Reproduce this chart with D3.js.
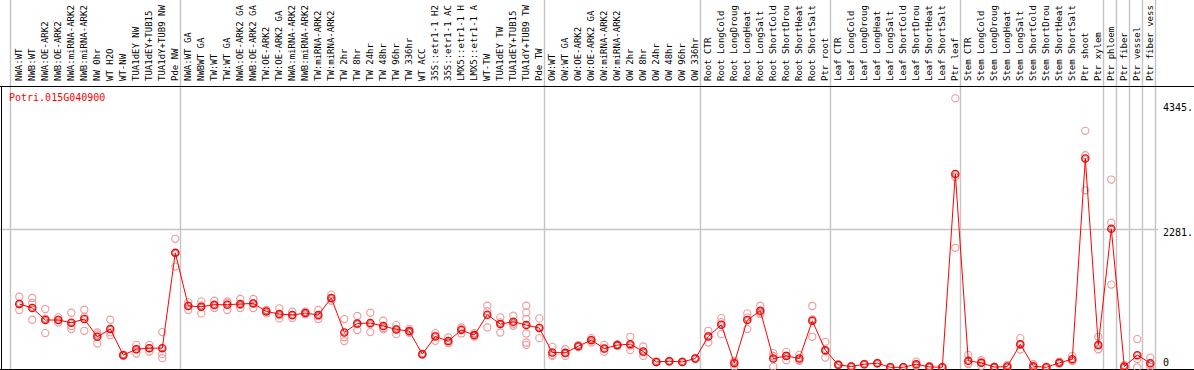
<!DOCTYPE html>
<html>
<head>
<meta charset="utf-8">
<script src="https://cdn.jsdelivr.net/npm/d3@7"></script>
<style>
  body { margin: 0; background: #fff; }
  svg { display: block; }
</style>
</head>
<body>
<div id="chart"></div>
<script>
const width = 1194;
const height = 370;

const geneId = "Potri.015G040900";

// labels as far as they are visible in the header strip
const labels = [
  "NWA:WT", "NWB:WT", "NWA:OE-ARK2", "NWB:OE-ARK2", "NWA:miRNA-ARK2", "NWB:miRNA-ARK2",
  "NW 0hr", "WT H2O", "WT-NW", "TUA1dEY NW", "TUA1dEY+TUB15", "TUA1dY+TUB9 NW", "Pde NW",
  "NWA:WT GA", "NWBWT GA", "TW:WT", "TW:WT GA", "NWA:OE-ARK2 GA", "NWB:OE-ARK2 GA",
  "TW:OE-ARK2", "TW:OE-ARK2 GA", "NWA:miRNA-ARK2", "NWB:miRNA-ARK2", "TW:miRNA-ARK2", "TW:miRNA-ARK2",
  "TW 2hr", "TW 8hr", "TW 24hr", "TW 48hr", "TW 96hr", "TW 336hr", "WT ACC",
  "35S::etr1-1 H2", "35S::etr1-1 AC", "LMX5::etr1-1 H", "LMX5::etr1-1 A", "WT-TW",
  "TUA1dEY TW", "TUA1dEY+TUB15", "TUA1dY+TUB9 TW", "Pde TW",
  "OW:WT", "OW:WT GA", "OW:OE-ARK2", "OW:OE-ARK2 GA", "OW:miRNA-ARK2", "OW:miRNA-ARK2",
  "OW 2hr", "OW 8hr", "OW 24hr", "OW 48hr", "OW 96hr", "OW 336hr",
  "Root CTR", "Root LongCold", "Root LongDroug", "Root LongHeat", "Root LongSalt",
  "Root ShortCold", "Root ShortDrou", "Root ShortHeat", "Root ShortSalt", "Ptr root",
  "Leaf CTR", "Leaf LongCold", "Leaf LongDroug", "Leaf LongHeat", "Leaf LongSalt",
  "Leaf ShortCold", "Leaf ShortDrou", "Leaf ShortHeat", "Leaf ShortSalt", "Ptr leaf",
  "Stem CTR", "Stem LongCold", "Stem LongDroug", "Stem LongHeat", "Stem LongSalt",
  "Stem ShortCold", "Stem ShortDrou", "Stem ShortHeat", "Stem ShortSalt", "Ptr shoot",
  "Ptr xylem", "Ptr phloem", "Ptr fiber", "Ptr vessel", "Ptr fiber vess"
];

// how many columns sit between two grey separators
const groupSizes = [13, 28, 12, 10, 10, 11, 1, 1, 1, 1];

const means = [
  1042, 976, 778, 778, 733, 794, 502, 629, 200, 298, 315, 315, 1884,
  1009, 997, 1030, 1030, 1042, 1052, 920, 877, 860, 893, 860, 1141,
  573, 722, 728, 679, 623, 596, 216, 507, 431, 613, 530, 865, 711, 750, 695, 646,
  243, 238, 348, 447, 309, 365, 381, 259, 89, 100, 89, 144,
  507, 700, 68, 778, 931, 144, 188, 144, 766, 282,
  40, 12, 51, 68, 0, 0, 51, 7, 0, 3182,
  106, 73, 3, 12, 381, 18, 0, 73, 134, 3436,
  365, 2281, 12, 200, 68
];

const replicates = [
  [1162, 943, 1040], [1141, 783, 1058], [959, 563, 800], [821, 738, 780], [898, 680, 629],
  [948, 601, 830], [573, 391, 540], [783, 530, 575], [210, 195, 195], [370, 226, 298],
  [370, 259, 315], [579, 150, 216], [2115, 1658, 1880],
  [1069, 943, 1015], [1085, 887, 1020], [1096, 976, 1018], [1085, 943, 1062], [1124, 976, 1026],
  [1124, 976, 1056], [943, 887, 930], [970, 805, 856], [915, 810, 855], [915, 870, 893],
  [943, 794, 843], [1196, 1096, 1131],
  [794, 431, 494], [844, 613, 709], [898, 579, 707], [766, 646, 625], [695, 546, 628],
  [634, 568, 586], [225, 210, 213], [563, 436, 522], [491, 398, 404], [656, 557, 626],
  [563, 507, 520], [1014, 656, 925], [821, 573, 739], [849, 684, 717],
  [1014, 904, 794, 557, 408, 370], [805, 480, 653],
  [337, 188, 204], [298, 188, 228], [370, 340, 334], [480, 408, 453], [370, 254, 303],
  [375, 355, 365], [502, 282, 359], [342, 188, 247], [95, 85, 87], [105, 95, 100],
  [92, 86, 89], [150, 140, 142],
  [601, 408, 512], [810, 546, 744], [106, 12, 86], [887, 629, 818], [1014, 877, 902],
  [233, 12, 187], [254, 117, 193], [205, 106, 121], [1009, 502, 787], [419, 160, 267],
  [45, 35, 40], [15, 10, 11], [55, 48, 50], [72, 64, 68], [5, 0, 0],
  [7, 0, 0], [94, 30, 30], [20, 0, 0], [0, 0, 0], [4427, 1967, 3133],
  [205, 61, 52], [117, 23, 79], [5, 0, 0], [40, 0, 0], [480, 293, 370],
  [51, 0, 3], [12, 0, 0], [94, 60, 65], [188, 106, 108], [3892, 3491, 2913],
  [502, 299, 294], [3090, 2379, 1361], [35, 0, 0], [464, 0, 136], [160, 7, 37]
];

const yTicks = [0, 2281, 4345];
const yTickText = ["0", "2281.", "4345."];

const frameTop = 86;
const frameBottom = 369;

const x = d3.scaleLinear().domain([0, labels.length - 1]).range([19.3, 1150.3]);
const y = d3.scaleLinear().domain([0, 4345]).range([367.3, 103.3]);

const svg = d3.select("#chart")
  .append("svg")
  .attr("width", width)
  .attr("height", height)
  .attr("viewBox", [0, 0, width, height]);

// grey separators, first one left of column 0, then at the end of each group
let sepCols = [];
let acc = 0;
groupSizes.forEach(n => { acc += n; sepCols.push(acc - 1); });
const sepX = [x(0) - 9].concat(sepCols.map(i => x(i) + 5));

svg.append("g")
  .selectAll("line")
  .data(sepX)
  .join("line")
  .attr("x1", d => Math.round(d) + 0.5)
  .attr("x2", d => Math.round(d) + 0.5)
  .attr("y1", 0)
  .attr("y2", frameBottom)
  .attr("stroke", "#c4c4c4")
  .attr("stroke-width", 1.4);

// horizontal grid at the middle tick
svg.append("line")
  .attr("x1", 0)
  .attr("x2", 1158)
  .attr("y1", Math.round(y(2281)) + 0.5)
  .attr("y2", Math.round(y(2281)) + 0.5)
  .attr("stroke", "#c4c4c4")
  .attr("stroke-width", 1.4);

// frame
svg.append("line")
  .attr("x1", 0).attr("x2", width)
  .attr("y1", frameTop + 0.5).attr("y2", frameTop + 0.5)
  .attr("stroke", "#000");
svg.append("line")
  .attr("x1", 0).attr("x2", width)
  .attr("y1", frameBottom + 0.5).attr("y2", frameBottom + 0.5)
  .attr("stroke", "#000");
svg.append("line")
  .attr("x1", 1.5).attr("x2", 1.5)
  .attr("y1", frameTop).attr("y2", frameBottom)
  .attr("stroke", "#000");

// rotated column labels
svg.append("g")
  .attr("font-family", "DejaVu Sans Mono, monospace")
  .attr("font-size", 9)
  .selectAll("text")
  .data(labels)
  .join("text")
  .attr("transform", (d, i) => `translate(${x(i) + 2.6}, 81) rotate(-90)`)
  .attr("fill", "#000")
  .text(d => d);

// gene id
svg.append("text")
  .attr("x", 9)
  .attr("y", 101)
  .attr("font-family", "DejaVu Sans Mono, monospace")
  .attr("font-size", 10)
  .attr("fill", "#ff0000")
  .text(geneId);

// right value labels
svg.append("g")
  .attr("font-family", "DejaVu Sans Mono, monospace")
  .attr("font-size", 10)
  .selectAll("text")
  .data(yTicks)
  .join("text")
  .attr("x", 1163)
  .attr("y", (d, i) => d === 0 ? 366 : y(d) + 7.4)
  .attr("fill", "#000")
  .text((d, i) => yTickText[i]);

// replicate circles
const repPoints = [];
replicates.forEach((arr, i) => arr.forEach(v => repPoints.push({ i, v })));

svg.append("g")
  .selectAll("circle")
  .data(repPoints)
  .join("circle")
  .attr("cx", d => x(d.i))
  .attr("cy", d => y(d.v))
  .attr("r", 3.6)
  .attr("fill", "none")
  .attr("stroke", "#ee9999")
  .attr("stroke-width", 1.1);

// mean line
const line = d3.line()
  .x((d, i) => x(i))
  .y(d => y(d));

svg.append("path")
  .datum(means)
  .attr("d", line)
  .attr("fill", "none")
  .attr("stroke", "#ff0000")
  .attr("stroke-width", 1);

// mean markers
const meanG = svg.append("g");
meanG.selectAll("circle.m")
  .data(means)
  .join("circle")
  .attr("class", "m")
  .attr("cx", (d, i) => x(i))
  .attr("cy", d => y(d))
  .attr("r", 3.6)
  .attr("fill", "none")
  .attr("stroke", "#ff0000")
  .attr("stroke-width", 1.3);
meanG.selectAll("circle.c")
  .data(means)
  .join("circle")
  .attr("class", "c")
  .attr("cx", (d, i) => x(i))
  .attr("cy", d => y(d))
  .attr("r", 2.5)
  .attr("fill", "none")
  .attr("stroke", "#400000")
  .attr("stroke-width", 0.6)
  .attr("stroke-opacity", 0.6);
</script>
</body>
</html>
